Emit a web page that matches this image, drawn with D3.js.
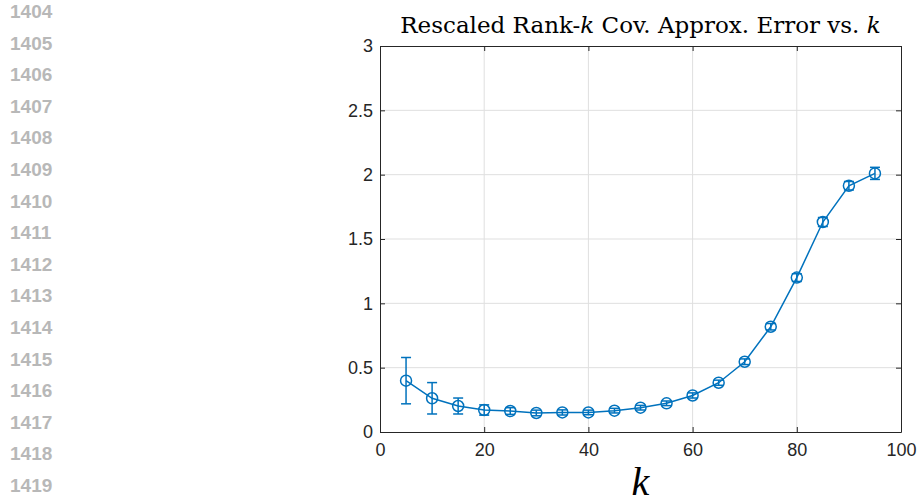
<!DOCTYPE html>
<meta charset="utf-8">
<script src="https://d3js.org/d3.v7.min.js"></script>
<style>
  body { margin: 0; background: #fff; }
</style>
<div id="my_dataviz"></div>
<script>

// data
var kValues = [5, 10, 15, 20, 25, 30, 35, 40, 45, 50, 55, 60, 65, 70, 75, 80, 85, 90, 95];
var errMean = [0.399, 0.262, 0.202, 0.171, 0.163, 0.148, 0.152, 0.152, 0.166, 0.189, 0.223, 0.284, 0.383, 0.546, 0.818, 1.200, 1.632, 1.914, 2.010];
var errBar  = [0.180, 0.122, 0.062, 0.040, 0.026, 0.022, 0.020, 0.018, 0.018, 0.018, 0.018, 0.020, 0.020, 0.022, 0.025, 0.030, 0.035, 0.033, 0.047];
var xTicks = [0, 20, 40, 60, 80, 100];
var yTicks = [0, 0.5, 1, 1.5, 2, 2.5, 3];
var lineNumbers = ["1404", "1405", "1406", "1407", "1408", "1409", "1410", "1411",
                   "1412", "1413", "1414", "1415", "1416", "1417", "1418", "1419"];

var W = 917, H = 504;
var margin = {top: 46, left: 380, right: 16, bottom: 72};
var width = W - margin.left - margin.right,
    height = H - margin.top - margin.bottom;

var blue = "#0072BD", axisCol = "#262626";

var root = d3.select("#my_dataviz").append("svg")
    .attr("width", W).attr("height", H);

// line numbers in the margin
root.append("g").selectAll("text")
  .data(lineNumbers)
  .enter().append("text")
    .attr("x", 10)
    .attr("y", function(d, i) { return 18 + i * 31.6; })
    .style("font-family", "'Liberation Sans', Arial, sans-serif")
    .style("font-weight", "bold")
    .style("font-size", "19px")
    .style("fill", "#b8b8b8")
    .text(function(d) { return d; });

var svg = root.append("g")
    .attr("transform", "translate(" + margin.left + "," + margin.top + ")");

var x = d3.scaleLinear().domain([0, 100]).range([0, width]);
var y = d3.scaleLinear().domain([0, 3]).range([height, 0]);

// grid
svg.append("g").selectAll("line.gx")
  .data(xTicks.slice(1, -1)).enter().append("line")
    .attr("x1", function(d) { return x(d); }).attr("x2", function(d) { return x(d); })
    .attr("y1", 0).attr("y2", height)
    .style("stroke", "#dfdfdf").style("stroke-width", 1);
svg.append("g").selectAll("line.gy")
  .data(yTicks.slice(1, -1)).enter().append("line")
    .attr("y1", function(d) { return y(d); }).attr("y2", function(d) { return y(d); })
    .attr("x1", 0).attr("x2", width)
    .style("stroke", "#dfdfdf").style("stroke-width", 1);

// axes (ticks pointing inward, matlab style)
function styleAxis(g) {
  g.select(".domain").style("stroke", axisCol);
  g.selectAll(".tick line").style("stroke", axisCol);
  g.selectAll(".tick text")
    .style("font-family", "'Liberation Sans', Arial, Helvetica, sans-serif")
    .style("font-size", "18px")
    .style("fill", axisCol);
}
var fmt = function(d) { return String(d); };

svg.append("g")
    .attr("transform", "translate(0," + height + ")")
    .call(d3.axisBottom(x).tickValues(xTicks).tickFormat(fmt).tickSizeInner(-5).tickSizeOuter(0).tickPadding(11))
    .call(styleAxis);
svg.append("g")
    .call(d3.axisLeft(y).tickValues(yTicks).tickFormat(fmt).tickSizeInner(-5).tickSizeOuter(0).tickPadding(7))
    .call(styleAxis);
svg.append("g")
    .call(d3.axisTop(x).tickValues(xTicks).tickFormat("").tickSizeInner(-5).tickSizeOuter(0))
    .call(styleAxis);
svg.append("g")
    .attr("transform", "translate(" + width + ",0)")
    .call(d3.axisRight(y).tickValues(yTicks).tickFormat("").tickSizeInner(-5).tickSizeOuter(0))
    .call(styleAxis);

var data = kValues.map(function(k, i) { return {k: k, m: errMean[i], e: errBar[i]}; });

// line
svg.append("path")
    .datum(data)
    .attr("d", d3.line().x(function(d) { return x(d.k); }).y(function(d) { return y(d.m); }))
    .style("fill", "none").style("stroke", blue).style("stroke-width", 1.5);

// error bars
var eb = svg.append("g").selectAll("g").data(data).enter().append("g");
eb.append("line")
    .attr("x1", function(d) { return x(d.k); }).attr("x2", function(d) { return x(d.k); })
    .attr("y1", function(d) { return y(d.m - d.e); }).attr("y2", function(d) { return y(d.m + d.e); });
eb.append("line")
    .attr("x1", function(d) { return x(d.k) - 5; }).attr("x2", function(d) { return x(d.k) + 5; })
    .attr("y1", function(d) { return y(d.m + d.e); }).attr("y2", function(d) { return y(d.m + d.e); });
eb.append("line")
    .attr("x1", function(d) { return x(d.k) - 5; }).attr("x2", function(d) { return x(d.k) + 5; })
    .attr("y1", function(d) { return y(d.m - d.e); }).attr("y2", function(d) { return y(d.m - d.e); });
eb.selectAll("line").style("stroke", blue).style("stroke-width", 1.5);

// markers
svg.append("g").selectAll("circle").data(data).enter().append("circle")
    .attr("cx", function(d) { return x(d.k); })
    .attr("cy", function(d) { return y(d.m); })
    .attr("r", 5.5)
    .style("fill", "none").style("stroke", blue).style("stroke-width", 1.5);

// title
var title = root.append("text")
    .attr("x", margin.left + width / 2)
    .attr("y", 33)
    .attr("text-anchor", "middle")
    .style("font-family", "'DejaVu Serif', 'Liberation Serif', serif")
    .style("font-size", "23px")
    .style("fill", "#000");
title.append("tspan").text("Rescaled Rank-");
title.append("tspan").style("font-style", "italic").text("k");
title.append("tspan").text(" Cov. Approx. Error vs. ");
title.append("tspan").style("font-style", "italic").text("k");

// x label
root.append("text")
    .attr("x", margin.left + width / 2)
    .attr("y", 495)
    .attr("text-anchor", "middle")
    .style("font-family", "'Liberation Serif', 'DejaVu Serif', serif")
    .style("font-style", "italic")
    .style("font-size", "40px")
    .style("fill", "#000")
    .text("k");

</script>
